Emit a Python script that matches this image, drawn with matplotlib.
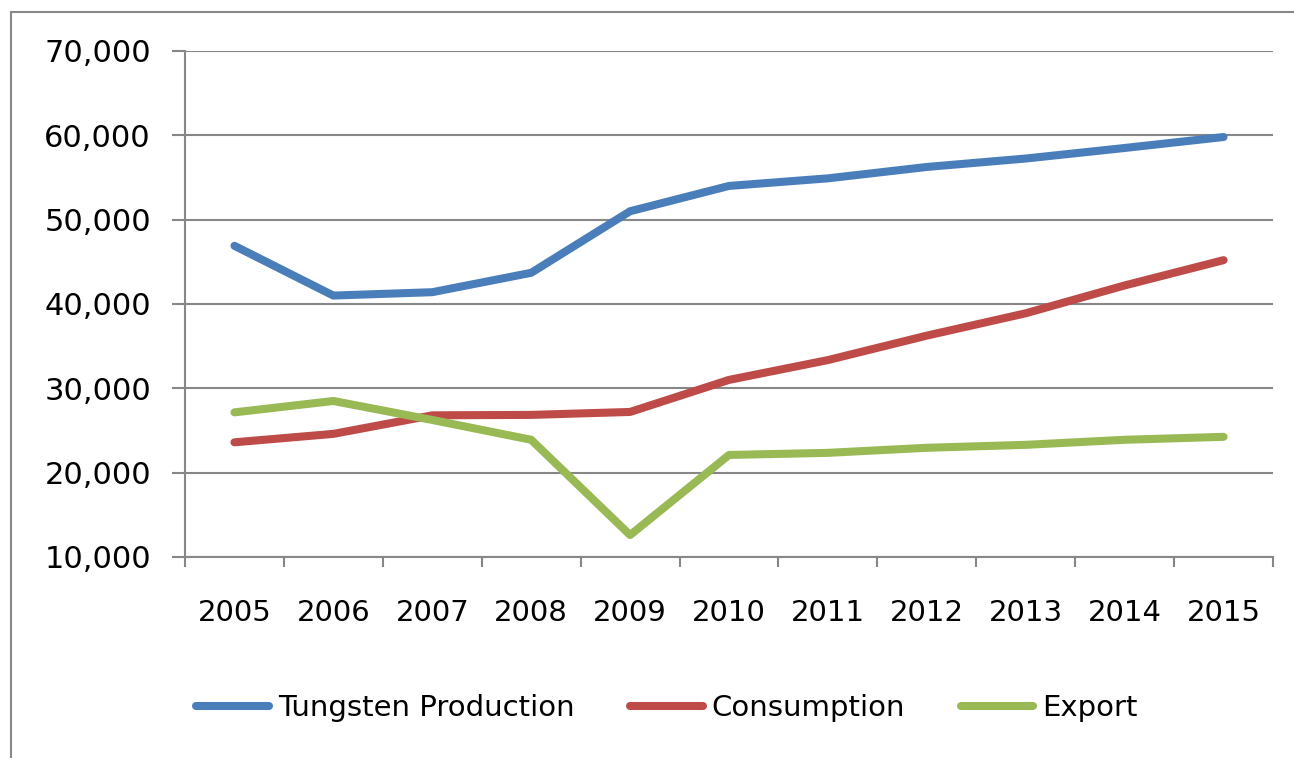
import matplotlib
matplotlib.use("Agg")
import matplotlib.pyplot as plt
from matplotlib.patches import Rectangle
from matplotlib.ticker import FuncFormatter, MultipleLocator

years = ["2005", "2006", "2007", "2008", "2009", "2010",
         "2011", "2012", "2013", "2014", "2015"]
production = [46900, 41000, 41400, 43700, 51000, 54000,
              54900, 56250, 57250, 58500, 59800]
consumption = [23600, 24600, 26800, 26850, 27200, 31000,
               33350, 36250, 38900, 42200, 45200]
export = [27150, 28500, 26250, 23900, 12600, 22100,
          22350, 22950, 23300, 23900, 24250]

series_names = ["Tungsten Production", "Consumption", "Export"]
colors = ["#4a7ebb", "#be4b48", "#98b954"]
grey = "#878787"

W, H = 1294, 758
fig = plt.figure(figsize=(W / 100, H / 100), dpi=100)

# outer chart border (left + top visible)
fig.patches.append(Rectangle((11 / W, -0.05), 1.2, 1 - 12 / H + 0.05,
                             transform=fig.transFigure, fill=False,
                             edgecolor=grey, linewidth=1.5))

ax = fig.add_axes([185 / W, 1 - 557 / H, (1273 - 185) / W, (557 - 51) / H])

x = list(range(len(years)))
for vals, name, c in zip([production, consumption, export], series_names, colors):
    ax.plot(x, vals, color=c, linewidth=5.8, label=name,
            solid_capstyle="round", solid_joinstyle="round")

ax.set_xlim(-0.5, len(years) - 0.5)
ax.set_ylim(10000, 70000)
ax.yaxis.set_major_locator(MultipleLocator(10000))
ax.yaxis.set_major_formatter(FuncFormatter(lambda v, p: f"{int(v):,}"))
ax.grid(axis="y", color=grey, linewidth=1.5)
ax.set_axisbelow(True)

ax.set_xticks(x)
ax.set_xticklabels(years)
ax.set_xticks([i - 0.5 for i in range(len(years) + 1)], minor=True)
ax.tick_params(axis="x", which="major", length=0, pad=30, labelsize=21)
ax.tick_params(axis="x", which="minor", length=7.5, width=1.5, color=grey)
ax.tick_params(axis="y", length=9.5, width=1.5, color=grey, pad=15, labelsize=22)

for s in ["top", "right"]:
    ax.spines[s].set_visible(False)
for s in ["left", "bottom"]:
    ax.spines[s].set_color(grey)
    ax.spines[s].set_linewidth(1.5)

fig.legend(loc="center", bbox_to_anchor=(667 / W, 1 - 708 / H), ncol=3,
           frameon=False, fontsize=21, handlelength=2.5, handletextpad=0.3,
           columnspacing=1.9)

fig.savefig("out.png", dpi=100)
